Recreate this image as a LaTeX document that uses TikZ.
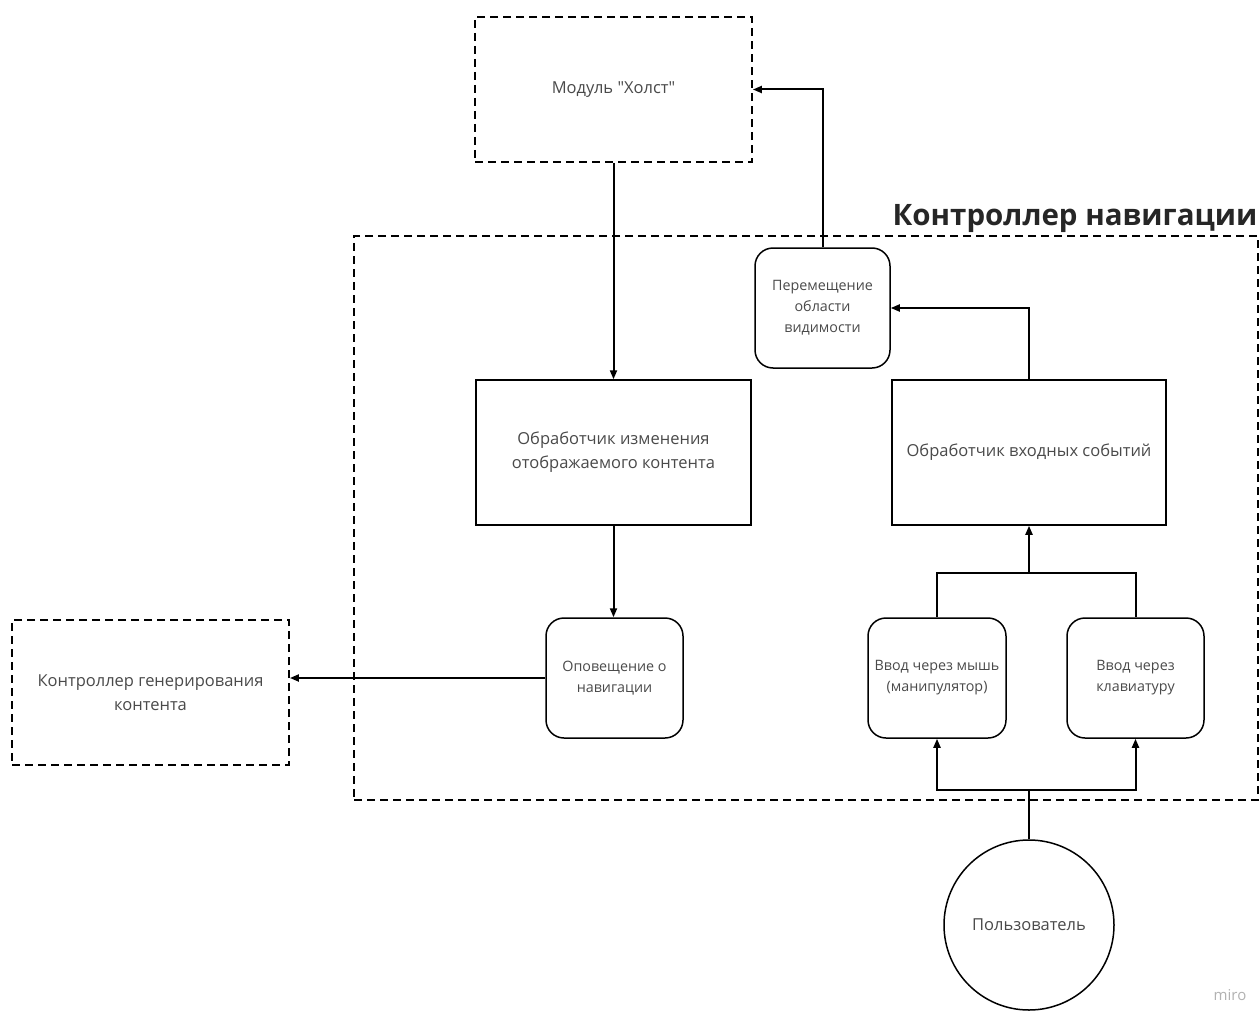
\documentclass[tikz,border=0pt]{standalone}
\usepackage{fontspec}
\setmainfont{Open Sans}[Ligatures=TeXOff]
\usetikzlibrary{arrows.meta}
\definecolor{txt}{HTML}{4A4A4A}
\begin{document}
\begin{tikzpicture}[x=1pt,y=-1pt,
  box/.style={draw, line width=1.5pt, text=txt, align=center, inner sep=0pt,
    font=\fontsize{16.5}{24}\selectfont},
  dbox/.style={box, dash pattern=on 8pt off 5pt, line width=1.8pt},
  rbox/.style={box, rounded corners=18pt, font=\fontsize{14.3}{21}\selectfont},
  conn/.style={line width=2pt, -{Triangle[length=9pt,width=7pt]}},
  wire/.style={line width=2pt}]
\useasboundingbox[fill=white] (0,0) rectangle (1260,1014);

% outer frame of the navigation controller
\node[dbox, minimum width=904pt, minimum height=564pt] (nav) at (806,518) {};
\node[anchor=base east, font=\fontsize{29.5}{32}\selectfont\bfseries, text=black!85] (title) at (1261,225) {Контроллер навигации};

% external modules
\node[dbox, minimum width=277pt, minimum height=145pt] (holst) at (613.5,89.5) {Модуль "Холст"};
\node[dbox, minimum width=277pt, minimum height=145pt] (gen) at (150.5,692.5) {Контроллер генерирования\\контента};

% handlers
\node[box, minimum width=275pt, minimum height=145pt] (cont) at (613.5,452.5) {Обработчик изменения\\отображаемого контента};
\node[box, minimum width=274pt, minimum height=145pt] (events) at (1029,452.5) {Обработчик входных событий};

% rounded action blocks
\node[rbox, minimum width=135pt, minimum height=120pt] (move) at (822.5,308) {Перемещение\\области\\видимости};
\node[rbox, minimum width=137pt, minimum height=120pt] (notify) at (614.5,678) {Оповещение о\\навигации};
\node[rbox, minimum width=138pt, minimum height=120pt] (mouse) at (937,678) {Ввод через мышь\\(манипулятор)};
\node[rbox, minimum width=137pt, minimum height=120pt] (keys) at (1135.5,678) {Ввод через\\клавиатуру};

% user
\node[circle, draw, line width=1.5pt, minimum size=170pt, inner sep=0pt, text=txt,
  font=\fontsize{16.5}{24}\selectfont] (user) at (1029,925) {Пользователь};

% connectors
\draw[conn] (move.north) |- (holst.east);
\draw[conn] (holst.south) -- (cont.north);
\draw[conn] (events.north) |- (move.east);
\draw[conn] (cont.south) -- (cont.south |- notify.north);
\draw[conn] (notify.west) -- (gen.east |- notify.west);

\coordinate (join) at (1029,573);
\draw[wire] (mouse.north) |- (join) -| (keys.north);
\draw[conn] (join) -- (events.south);

\coordinate (split) at (1029,790);
\draw[wire] (user.north) -- (split);
\draw[conn] (split) -| (mouse.south);
\draw[conn] (split) -| (keys.south);

\node[text=black!30, font=\fontsize{15}{16}\selectfont] (mark) at (1230,995) {miro};
\end{tikzpicture}
\end{document}
